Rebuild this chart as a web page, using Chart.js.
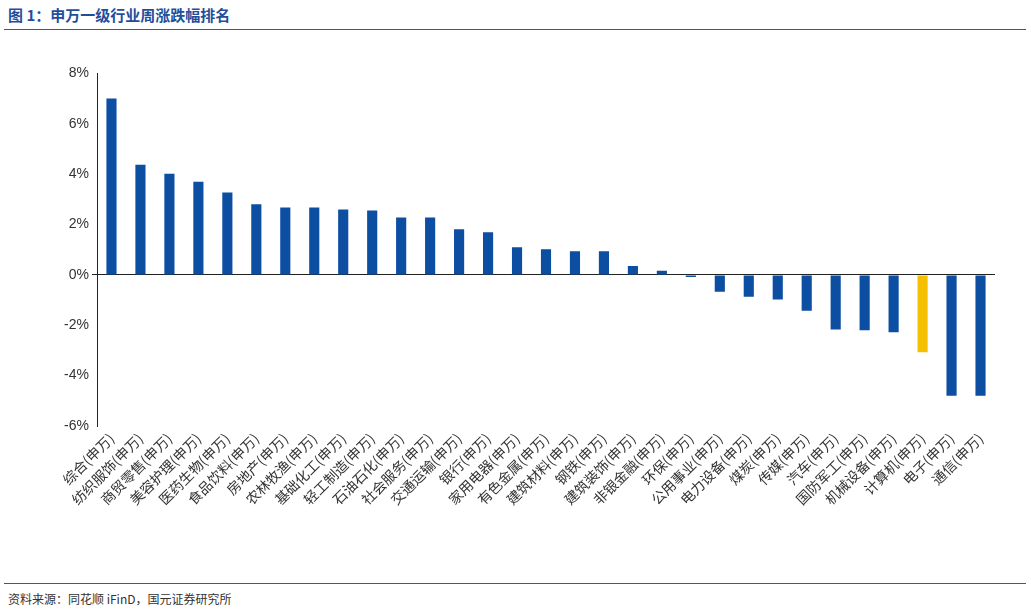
<!DOCTYPE html>
<html>
<head>
<meta charset="utf-8">
<script src="https://cdn.jsdelivr.net/npm/chart.js@4"></script>
<style>
  body{margin:0;background:#fff;font-family:"Noto Sans CJK SC",sans-serif;}
  .title{position:absolute;left:8px;top:4px;font-size:15px;font-weight:bold;color:#1f4e9c;}
  .topline{position:absolute;left:4px;top:29px;width:1022px;height:1px;background:#555;}
  .botline{position:absolute;left:4px;top:583px;width:1022px;height:1px;background:#555;}
  .source{position:absolute;left:8px;top:590px;font-size:12px;color:#333;}
  .wrap{position:absolute;left:40px;top:62px;width:975px;height:514px;}
</style>
</head>
<body>
<div class="title">图 1：申万一级行业周涨跌幅排名</div>
<div class="topline"></div>
<div class="wrap"><canvas id="chart"></canvas></div>
<div class="botline"></div>
<div class="source">资料来源：同花顺 iFinD，国元证券研究所</div>
<script>
const industries = ['综合','纺织服饰','商贸零售','美容护理','医药生物','食品饮料','房地产','农林牧渔','基础化工','轻工制造','石油石化','社会服务','交通运输','银行','家用电器','有色金属','建筑材料','钢铁','建筑装饰','非银金融','环保','公用事业','电力设备','煤炭','传媒','汽车','国防军工','机械设备','计算机','电子','通信'];
const weeklyChange = [7.0,4.37,4.02,3.70,3.27,2.80,2.68,2.68,2.60,2.56,2.28,2.28,1.81,1.69,1.10,1.02,0.94,0.94,0.35,0.16,-0.08,-0.67,-0.87,-0.98,-1.42,-2.17,-2.2,-2.28,-3.07,-4.8,-4.8];
const highlight = '计算机';

const labels = industries.map(n => n + '(申万)');
const colors = industries.map(n => n === highlight ? '#f5c000' : '#0b4ea2');

new Chart(document.getElementById('chart'), {
  type: 'bar',
  data: {
    labels: labels,
    datasets: [{ data: weeklyChange, backgroundColor: colors, barPercentage: 0.35, categoryPercentage: 1 }]
  },
  options: {
    responsive: true,
    maintainAspectRatio: false,
    animation: false,
    layout: { padding: { right: 20, top: 0 } },
    plugins: { legend: { display: false }, tooltip: { enabled: false } },
    scales: {
      x: {
        afterFit: s => { s.height = 150; },
        grid: { display: false, drawTicks: false },
        border: { display: false },
        ticks: { maxRotation: 45, minRotation: 45, color: '#333', font: { size: 14, family: 'Noto Sans CJK SC' }, padding: 4 }
      },
      y: {
        min: -6, max: 8,
        afterFit: s => { s.width = 57; },
        grid: {
          drawTicks: true, tickLength: 5,
          color: ctx => ctx.tick && ctx.tick.value === 0 ? '#222' : 'rgba(0,0,0,0)'
        },
        border: { display: true, color: '#222' },
        ticks: { stepSize: 2, color: '#333', font: { size: 14 }, callback: v => v + '%' }
      }
    }
  }
});
</script>
</body>
</html>
